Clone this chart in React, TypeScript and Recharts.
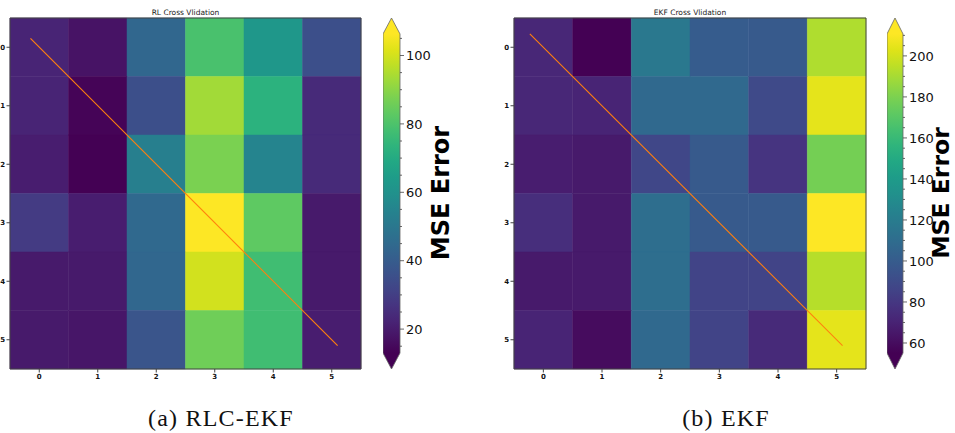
import React from 'react';
import { ScatterChart, Scatter, XAxis, YAxis, ReferenceArea } from 'recharts';

const FONT = "'DejaVu Sans', sans-serif";
const SERIF = "'Liberation Serif', 'Times New Roman', serif";

// fold indices on both axes
const folds = [0, 1, 2, 3, 4, 5];

// MSE per (train fold row, test fold column)
const rlcEkfMse: number[][] = [
  [22.3, 17.7, 43.8, 79.2, 62.4, 35.4],
  [22.3, 13.9, 35.4, 93.2, 72.7, 24.2],
  [20.5, 13.0, 53.1, 87.6, 55.0, 24.2],
  [28.9, 20.5, 44.7, 106.3, 83.0, 19.5],
  [19.5, 19.5, 43.8, 99.8, 77.4, 19.5],
  [19.5, 18.6, 37.3, 85.8, 77.4, 20.5],
];

const ekfMse: number[][] = [
  [72.2, 55.1, 117.3, 100.2, 98.7, 192.0],
  [72.2, 70.7, 108.0, 108.0, 89.3, 204.5],
  [67.5, 66.0, 87.8, 98.7, 78.4, 178.0],
  [75.3, 66.0, 111.1, 98.7, 98.7, 210.7],
  [66.0, 66.0, 111.1, 86.2, 86.2, 193.6],
  [70.7, 59.8, 108.0, 86.2, 73.8, 204.5],
];

const rlcBarTicks = [20, 40, 60, 80, 100];
const ekfBarTicks = [60, 80, 100, 120, 140, 160, 180, 200];

// diagonal guide line endpoints
const rlcDiagonal = [{ x: -0.15, y: -0.15 }, { x: 5.1, y: 5.1 }];
const ekfDiagonal = [{ x: -0.23, y: -0.23 }, { x: 5.1, y: 5.1 }];

const viridisStops = [
  '#440154', '#471365', '#482475', '#463480', '#414487', '#3b528b', '#355f8d',
  '#2f6c8e', '#2a788e', '#25848e', '#21918c', '#1e9c89', '#22a884', '#2fb47c',
  '#44bf70', '#5ec962', '#7ad151', '#9bd93c', '#bddf26', '#dfe318', '#fde725',
];

const hexToRgb = (h: string) => [1, 3, 5].map((i) => parseInt(h.slice(i, i + 2), 16));

const viridis = (t: number) => {
  const c = Math.min(1, Math.max(0, t)) * (viridisStops.length - 1);
  const i = Math.min(Math.floor(c), viridisStops.length - 2);
  const f = c - i;
  const a = hexToRgb(viridisStops[i]);
  const b = hexToRgb(viridisStops[i + 1]);
  const rgb = a.map((v, k) => Math.round(v + (b[k] - v) * f));
  return `rgb(${rgb.join(',')})`;
};

const tickStyle = { fontSize: 7, fontWeight: 700, fill: '#111', fontFamily: FONT };

const Heatmap = ({ values, diagonal, width }: { values: number[][]; diagonal: { x: number; y: number }[]; width: number }) => {
  const flat = values.flat();
  const lo = Math.min(...flat);
  const hi = Math.max(...flat);
  return (
    <ScatterChart width={width} height={389} margin={{ top: 18, right: 2, bottom: 0, left: 0 }}>
      <XAxis
        type="number" dataKey="x" domain={[-0.5, 5.5]} ticks={folds} interval={0}
        height={20} tickSize={3.5} tickMargin={2} axisLine={false}
        tickLine={{ stroke: '#444' }} tick={tickStyle} allowDataOverflow
      />
      <YAxis
        type="number" dataKey="y" domain={[-0.5, 5.5]} reversed ticks={folds} interval={0}
        width={10} tickSize={3.5} tickMargin={1.5} axisLine={false}
        tickLine={{ stroke: '#444' }} tick={tickStyle} allowDataOverflow
      />
      {values.flatMap((row, r) =>
        row.map((v, c) => {
          const col = viridis((v - lo) / (hi - lo));
          return (
            <ReferenceArea
              key={`${r}-${c}`} x1={c - 0.5} x2={c + 0.5} y1={r - 0.5} y2={r + 0.5}
              fill={col} fillOpacity={1} stroke={col} strokeWidth={0.5} ifOverflow="visible"
            />
          );
        })
      )}
      <ReferenceArea x1={-0.5} x2={5.5} y1={-0.5} y2={5.5} fill="none" stroke="#444" strokeWidth={1} ifOverflow="visible" />
      <Scatter
        data={diagonal} line={{ stroke: '#ff7f0e', strokeWidth: 1.1 }}
        shape={() => <g />} isAnimationActive={false}
      />
    </ScatterChart>
  );
};

const Colorbar = ({ id, values, ticks, barWidth }: { id: string; values: number[][]; ticks: number[]; barWidth: number }) => {
  const flat = values.flat();
  const lo = Math.min(...flat);
  const hi = Math.max(...flat);
  // extend='both' arrows, 5% of the range each
  const ext = 0.05 * (hi - lo);
  const dom = [lo - ext, hi + ext];
  const frac = ext / (dom[1] - dom[0]);
  const minorStep = (ticks[1] - ticks[0]) / 4;
  const allTicks: number[] = [];
  for (let v = Math.ceil(lo / minorStep) * minorStep; v <= hi; v += minorStep) allTicks.push(v);
  const span = [{ x: 0, y: dom[0] }, { x: 1, y: dom[1] }];

  const BarShape = (p: any) => {
    const { x, y, width: w, height: h } = p;
    const e = h * frac;
    const pts = [
      [x + w / 2, y], [x + w, y + e], [x + w, y + h - e],
      [x + w / 2, y + h], [x, y + h - e], [x, y + e],
    ].map((q) => q.join(',')).join(' ');
    return (
      <g>
        <defs>
          <linearGradient id={id} x1="0" y1="0" x2="0" y2="1">
            <stop offset={0} stopColor={viridisStops[viridisStops.length - 1]} />
            {viridisStops.map((c, i) => {
              const t = i / (viridisStops.length - 1);
              return <stop key={i} offset={frac + (1 - t) * (1 - 2 * frac)} stopColor={c} />;
            }).reverse()}
            <stop offset={1} stopColor={viridisStops[0]} />
          </linearGradient>
        </defs>
        <polygon points={pts} fill={`url(#${id})`} stroke="#666" strokeWidth={0.8} />
      </g>
    );
  };

  const BarTick = (p: any) => {
    const { x, y, payload } = p;
    const axisX = x - 6;
    const major = ticks.includes(payload.value);
    return (
      <g>
        <line x1={axisX} x2={axisX + (major ? 4 : 2)} y1={y} y2={y} stroke="#444" strokeWidth={0.8} />
        {major && (
          <text x={x} y={y} dy="0.36em" fontSize={13} fill="#111" fontFamily={FONT}>
            {payload.value}
          </text>
        )}
      </g>
    );
  };

  return (
    <ScatterChart width={barWidth + 45} height={369} margin={{ top: 18, right: 0, bottom: 0, left: 0 }}>
      <XAxis type="number" dataKey="x" domain={[0, 1]} hide />
      <YAxis
        type="number" dataKey="y" orientation="right" domain={dom} ticks={allTicks} interval={0}
        width={45} tickSize={4} tickMargin={2} axisLine={false} tickLine={false}
        tick={BarTick} allowDataOverflow
      />
      <ReferenceArea x1={0} x2={1} y1={dom[0]} y2={dom[1]} shape={BarShape} ifOverflow="visible" />
      <Scatter data={span} shape={() => <g />} isAnimationActive={false} />
    </ScatterChart>
  );
};

export default function App() {
  return (
    <div style={{ position: 'absolute', left: 0, top: 0, width: 955, height: 433, background: '#fff' }}>
      <div style={{ position: 'absolute', left: 0, top: 0 }}>
        <Heatmap values={rlcEkfMse} diagonal={rlcDiagonal} width={363} />
      </div>
      <div style={{ position: 'absolute', left: 383, top: 0 }}>
        <Colorbar id="cb-rlc" values={rlcEkfMse} ticks={rlcBarTicks} barWidth={17} />
      </div>
      <div style={{ position: 'absolute', left: 504, top: 0 }}>
        <Heatmap values={ekfMse} diagonal={ekfDiagonal} width={364} />
      </div>
      <div style={{ position: 'absolute', left: 887, top: 0 }}>
        <Colorbar id="cb-ekf" values={ekfMse} ticks={ekfBarTicks} barWidth={16} />
      </div>
      <svg width={955} height={433} style={{ position: 'absolute', left: 0, top: 0, pointerEvents: 'none' }}>
        <text x={185.5} y={14.5} textAnchor="middle" fontSize={7.5} fill="#222" fontFamily={FONT}>RL Cross Vlidation</text>
        <text x={690} y={14.5} textAnchor="middle" fontSize={7.5} fill="#222" fontFamily={FONT}>EKF Cross Vlidation</text>
        <text x={448.5} y={193} transform="rotate(-90 448.5 193)" textAnchor="middle" fontSize={24} fontWeight={700} fill="#000" fontFamily={FONT}>MSE Error</text>
        <text x={949} y={193} transform="rotate(-90 949 193)" textAnchor="middle" fontSize={23.5} fontWeight={700} fill="#000" fontFamily={FONT}>MSE Error</text>
        <text x={221} y={425.5} textAnchor="middle" fontSize={24} letterSpacing={1.2} fill="#111" fontFamily={SERIF}>(a) RLC-EKF</text>
        <text x={726} y={425.5} textAnchor="middle" fontSize={24} letterSpacing={1.2} fill="#111" fontFamily={SERIF}>(b) EKF</text>
      </svg>
    </div>
  );
}
